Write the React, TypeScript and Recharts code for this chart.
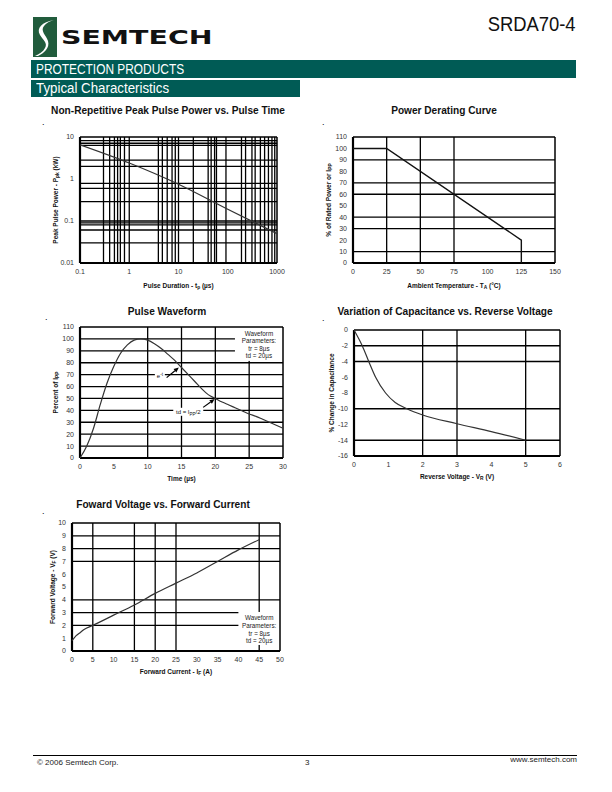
import React from "react";
import {
  LineChart,
  Line,
  XAxis,
  YAxis,
  ReferenceLine,
  ReferenceArea,
  ReferenceDot,
  Label,
} from "recharts";

const SANS = "'Liberation Sans', Arial, Helvetica, sans-serif";
const NARROW = "'Liberation Sans Narrow', 'Liberation Sans', Arial, sans-serif";
const TEAL = "#005b55";

// Non-repetitive peak pulse power vs pulse time (log-log)
const pulseTime = [0.1, 1, 10, 100, 1000];
const pulsePower = [6.5, 2.4, 0.75, 0.19, 0.05];
const pulseXTicks = [0.1, 1, 10, 100, 1000];
const pulseYTicks = [0.01, 0.1, 1, 10];
const pulseGridX = [
  0.3, 0.4, 0.5, 0.58, 0.66, 0.8, 1, 3.9, 4.7, 5.9, 7.4, 8.6, 10, 20, 40, 46,
  54, 59, 92, 190, 230, 310, 360, 460, 560, 670, 790, 900,
];
const pulseGridY = [0.03, 0.061, 0.081, 0.09, 0.1, 0.29, 0.6, 0.79, 2, 2.8, 6.3, 7.1, 8.2];

// Power derating curve
const deratingTemp = [0, 25, 125, 125];
const deratingPct = [100, 100, 20, 0];
const deratingXTicks = [0, 25, 50, 75, 100, 125, 150];
const deratingYTicks = [0, 10, 20, 30, 40, 50, 60, 70, 80, 90, 100, 110];
const deratingGridX = [25, 50, 75];
const deratingGridY = [10, 30, 40, 60, 70, 90];

// Pulse waveform
const waveTime = [0, 1, 2, 3, 4, 5, 6, 7, 8, 9, 10, 11, 12, 13, 14, 15, 16, 17, 18, 19, 20, 21, 22, 23, 24, 25, 26, 27, 28, 29, 30];
const wavePct = [0, 10, 25, 45, 63, 77, 88, 95, 99, 100, 99, 96, 92, 87, 82, 76, 70, 64, 58, 53, 50, 47, 44.5, 42, 39.5, 37, 35, 32.5, 30, 27.5, 25];
const waveXTicks = [0, 5, 10, 15, 20, 25, 30];
const waveYTicks = [0, 10, 20, 30, 40, 50, 60, 70, 80, 90, 100, 110];
const waveGridX = [10, 15, 20, 25];
const waveGridY = [10, 20, 30, 40, 50, 60, 70, 80, 90, 100];
const waveNotes = ["Waveform", "Parameters:", "tr = 8µs", "td = 20µs"];

// Capacitance vs reverse voltage
const capVoltage = [0, 0.24, 0.43, 0.63, 0.92, 1.2, 1.54, 2, 3, 4, 5];
const capChange = [0, -2, -4, -6, -8, -9.2, -10, -10.8, -11.9, -12.9, -14];
const capXTicks = [0, 1, 2, 3, 4, 5, 6];
const capYTicks = [-16, -14, -12, -10, -8, -6, -4, -2, 0];
const capGridX = [2, 3, 5];
const capGridY = [-2, -4, -10, -14];

// Forward voltage vs forward current
const fwdCurrent = [0, 1, 2, 3, 5, 10, 15, 20, 25, 30, 35, 40, 45];
const fwdVoltage = [0.8, 1.2, 1.45, 1.7, 2.0, 2.8, 3.6, 4.5, 5.3, 6.1, 7.0, 7.9, 8.7];
const fwdXTicks = [0, 5, 10, 15, 20, 25, 30, 35, 40, 45, 50];
const fwdYTicks = [0, 1, 2, 3, 4, 5, 6, 7, 8, 9, 10];
const fwdGridX = [5, 15, 20, 25, 45];
const fwdGridY = [2, 3, 4, 7, 8, 9];
const fwdNotes = ["Waveform", "Parameters:", "tr = 8µs", "td = 20µs"];

const M = { top: 6, right: 14, bottom: 0, left: 0 };
const YW = 50;
const XH = 30;
const TICK = { fontSize: 7, fill: "#333", fontFamily: SANS };
const CURVE = "#333";

type Part = [string, string?];

const RichText = ({ x, y, parts, size, rotate, bold }: any) => {
  let shift = 0;
  return (
    <text
      x={x}
      y={y}
      textAnchor="middle"
      dominantBaseline="central"
      fontFamily={SANS}
      fontWeight={bold ? "bold" : "normal"}
      fontSize={size}
      fill="#111"
      transform={rotate ? `rotate(-90 ${x} ${y})` : undefined}
    >
      {parts.map(([t, kind]: Part, i: number) => {
        const target = kind === "sub" ? size * 0.3 : kind === "sup" ? -size * 0.4 : 0;
        const dy = target - shift;
        shift = target;
        return (
          <tspan key={i} dy={dy} fontSize={kind ? size * 0.75 : size}>
            {t}
          </tspan>
        );
      })}
    </text>
  );
};

const xLabel = (parts: Part[], dy: number) => (props: any) => {
  const vb = props.viewBox;
  return <RichText x={vb.x + vb.width / 2} y={vb.y + dy} parts={parts} size={6.5} bold />;
};

const yLabel = (parts: Part[], dx: number) => (props: any) => {
  const vb = props.viewBox;
  return (
    <RichText x={vb.x + vb.width - dx} y={vb.y + vb.height / 2} parts={parts} size={6.5} bold rotate />
  );
};

const gridX = (vals: number[]) =>
  vals.map((v) => (
    <ReferenceLine key={`gx${v}`} x={v} stroke="#000" strokeWidth={1.3} zIndex={100} />
  ));

const gridY = (vals: number[]) =>
  vals.map((v) => (
    <ReferenceLine key={`gy${v}`} y={v} stroke="#000" strokeWidth={1.3} zIndex={100} />
  ));

const frame = (x0: number, x1: number, y0: number, y1: number) => [
  <ReferenceLine key="ft" y={y1} stroke="#000" strokeWidth={1.5} zIndex={400} />,
  <ReferenceLine key="fr" x={x1} stroke="#000" strokeWidth={1.5} zIndex={400} />,
  <ReferenceLine key="fl" x={x0} stroke="#000" strokeWidth={2.2} zIndex={400} />,
  <ReferenceLine key="fb" y={y0} stroke="#000" strokeWidth={2.2} zIndex={400} />,
];

const NoteBox = (props: any) => {
  const { x, y, width, height, lines, top } = props;
  return (
    <g>
      <rect x={x} y={y} width={width} height={height} fill="#fff" />
      {lines.map((l: string, i: number) => (
        <text
          key={i}
          x={x + width / 2}
          y={y + top + i * 7.6}
          textAnchor="middle"
          dominantBaseline="central"
          fontFamily={SANS}
          fontSize={6.3}
          fill="#222"
        >
          {l}
        </text>
      ))}
    </g>
  );
};

const Arrow = (props: any) => {
  const { x1, y1, x2, y2 } = props;
  const a = Math.atan2(y2 - y1, x2 - x1);
  const L = 5;
  const W = 2.2;
  const bx = x2 - L * Math.cos(a);
  const by = y2 - L * Math.sin(a);
  const px = -Math.sin(a) * W;
  const py = Math.cos(a) * W;
  return (
    <g>
      <line x1={x1} y1={y1} x2={bx} y2={by} stroke="#000" strokeWidth={1.2} />
      <polygon points={`${x2},${y2} ${bx + px},${by + py} ${bx - px},${by - py}`} fill="#000" />
    </g>
  );
};

const Tag = (props: any) => {
  const { cx, cy, parts, w } = props;
  return (
    <g>
      <rect x={cx - w / 2} y={cy - 4} width={w} height={8} fill="#fff" />
      <RichText x={cx} y={cy} parts={parts} size={6} />
    </g>
  );
};

const Title = ({ cx, cy, text }: { cx: number; cy: number; text: string }) => (
  <div
    style={{
      position: "absolute",
      left: cx - 160,
      top: cy - 7,
      width: 320,
      textAlign: "center",
      fontFamily: NARROW,
      fontWeight: "bold",
      fontSize: 11.5,
      lineHeight: "14px",
      color: "#111",
      transform: "scaleX(0.88)",
      transformOrigin: "center",
    }}
  >
    {text}
  </div>
);

const Dot = ({ x, y }: { x: number; y: number }) => (
  <div style={{ position: "absolute", left: x - 1, top: y - 8, fontSize: 9, fontFamily: SANS, color: "#000" }}>.</div>
);

const Holder = ({ px, py, children }: { px: number; py: number; children: React.ReactNode }) => (
  <div style={{ position: "absolute", left: px - YW - M.left, top: py - M.top }}>{children}</div>
);

function PulsePowerChart() {
  const data = pulseTime.map((t, i) => ({ t, p: pulsePower[i] }));
  const px = 80, py = 137, pw = 197, ph = 126;
  return (
    <Holder px={px} py={py}>
      <LineChart width={YW + pw + M.right} height={M.top + ph + XH} data={data} margin={M}>
        <XAxis
          type="number"
          dataKey="t"
          scale="log"
          domain={[0.1, 1000]}
          allowDataOverflow
          ticks={pulseXTicks}
          interval={0}
          tickFormatter={(v) => String(v)}
          axisLine={false}
          tickLine={false}
          tickSize={0}
          tickMargin={6}
          height={XH}
          tick={TICK}
        >
          <Label content={xLabel([["Pulse Duration - t"], ["p", "sub"], [" (µs)"]], 22)} />
        </XAxis>
        <YAxis
          type="number"
          scale="log"
          domain={[0.01, 10]}
          allowDataOverflow
          ticks={pulseYTicks}
          interval={0}
          tickFormatter={(v) => String(v)}
          axisLine={false}
          tickLine={false}
          tickSize={0}
          tickMargin={6}
          width={YW}
          tick={TICK}
        >
          <Label content={yLabel([["Peak Pulse Power - P"], ["pk", "sub"], [" (kW)"]], 25)} />
        </YAxis>
        {gridX(pulseGridX)}
        {gridY(pulseGridY)}
        {frame(0.1, 1000, 0.01, 10)}
        <Line type="monotone" dataKey="p" stroke={CURVE} strokeWidth={1.2} dot={false} isAnimationActive={false} zIndex={500} />
      </LineChart>
    </Holder>
  );
}

function DeratingChart() {
  const data = deratingTemp.map((t, i) => ({ t, p: deratingPct[i] }));
  const px = 353, py = 137, pw = 202, ph = 126;
  return (
    <Holder px={px} py={py}>
      <LineChart width={YW + pw + M.right} height={M.top + ph + XH} data={data} margin={M}>
        <XAxis type="number" dataKey="t" domain={[0, 150]} ticks={deratingXTicks} interval={0} axisLine={false} tickLine={false} tickSize={0} tickMargin={6} height={XH} tick={TICK}>
          <Label content={xLabel([["Ambient Temperature - T"], ["A", "sub"], [" (°C)"]], 22)} />
        </XAxis>
        <YAxis type="number" domain={[0, 110]} ticks={deratingYTicks} interval={0} axisLine={false} tickLine={false} tickSize={0} tickMargin={6} width={YW} tick={TICK}>
          <Label content={yLabel([["% of Rated Power or I"], ["PP", "sub"]], 25)} />
        </YAxis>
        {gridX(deratingGridX)}
        {gridY(deratingGridY)}
        {frame(0, 150, 0, 110)}
        <Line type="linear" dataKey="p" stroke="#111" strokeWidth={1.4} dot={false} isAnimationActive={false} zIndex={500} />
      </LineChart>
    </Holder>
  );
}

function WaveformChart() {
  const data = waveTime.map((t, i) => ({ t, p: wavePct[i] }));
  const px = 80, py = 327, pw = 203, ph = 131;
  return (
    <Holder px={px} py={py}>
      <LineChart width={YW + pw + M.right} height={M.top + ph + XH} data={data} margin={M}>
        <XAxis type="number" dataKey="t" domain={[0, 30]} ticks={waveXTicks} interval={0} axisLine={false} tickLine={false} tickSize={0} tickMargin={6} height={XH} tick={TICK}>
          <Label content={xLabel([["Time (µs)"]], 20)} />
        </XAxis>
        <YAxis type="number" domain={[0, 110]} ticks={waveYTicks} interval={0} axisLine={false} tickLine={false} tickSize={0} tickMargin={6} width={YW} tick={TICK}>
          <Label content={yLabel([["Percent of I"], ["PP", "sub"]], 25)} />
        </YAxis>
        {gridX(waveGridX)}
        {gridY(waveGridY)}
        <ReferenceArea x1={22.9} x2={30} y1={81.5} y2={110} zIndex={300} shape={(p: any) => <NoteBox {...p} lines={waveNotes} top={6} />} />
        {frame(0, 30, 0, 110)}
        <Line type="monotone" dataKey="p" stroke={CURVE} strokeWidth={1.2} dot={false} isAnimationActive={false} zIndex={500} />
        <ReferenceDot x={11.8} y={68.6} r={0} zIndex={600} shape={(p: any) => <Tag {...p} w={10} parts={[["e"], ["-t", "sup"]]} />} />
        <ReferenceLine segment={[{ x: 12.8, y: 67.5 }, { x: 14.6, y: 76 }]} zIndex={600} shape={(p: any) => <Arrow {...p} />} />
        <ReferenceDot x={16} y={38.8} r={0} zIndex={600} shape={(p: any) => <Tag {...p} w={30} parts={[["td = I"], ["PP", "sub"], ["/2"]]} />} />
        <ReferenceLine segment={[{ x: 18.2, y: 42.5 }, { x: 19.9, y: 49.5 }]} zIndex={600} shape={(p: any) => <Arrow {...p} />} />
      </LineChart>
    </Holder>
  );
}

function CapacitanceChart() {
  const data = capVoltage.map((v, i) => ({ v, c: capChange[i] }));
  const px = 354, py = 330, pw = 206, ph = 126;
  return (
    <Holder px={px} py={py}>
      <LineChart width={YW + pw + M.right} height={M.top + ph + XH} data={data} margin={M}>
        <XAxis type="number" dataKey="v" domain={[0, 6]} ticks={capXTicks} interval={0} axisLine={false} tickLine={false} tickSize={0} tickMargin={6} height={XH} tick={TICK}>
          <Label content={xLabel([["Reverse Voltage - V"], ["R", "sub"], [" (V)"]], 20)} />
        </XAxis>
        <YAxis type="number" domain={[-16, 0]} ticks={capYTicks} interval={0} axisLine={false} tickLine={false} tickSize={0} tickMargin={6} width={YW} tick={TICK}>
          <Label content={yLabel([["% Change in Capacitance"]], 23)} />
        </YAxis>
        {gridX(capGridX)}
        {gridY(capGridY)}
        {frame(0, 6, -16, 0)}
        <Line type="monotone" dataKey="c" stroke={CURVE} strokeWidth={1.2} dot={false} isAnimationActive={false} zIndex={500} />
      </LineChart>
    </Holder>
  );
}

function ForwardChart() {
  const data = fwdCurrent.map((c, i) => ({ c, v: fwdVoltage[i] }));
  const px = 72, py = 523, pw = 208, ph = 128;
  return (
    <Holder px={px} py={py}>
      <LineChart width={YW + pw + M.right} height={M.top + ph + XH} data={data} margin={M}>
        <XAxis type="number" dataKey="c" domain={[0, 50]} ticks={fwdXTicks} interval={0} axisLine={false} tickLine={false} tickSize={0} tickMargin={6} height={XH} tick={TICK}>
          <Label content={xLabel([["Forward Current - I"], ["F", "sub"], [" (A)"]], 20)} />
        </XAxis>
        <YAxis type="number" domain={[0, 10]} ticks={fwdYTicks} interval={0} axisLine={false} tickLine={false} tickSize={0} tickMargin={6} width={YW} tick={TICK}>
          <Label content={yLabel([["Forward Voltage - V"], ["F", "sub"], [" (V)"]], 20)} />
        </YAxis>
        {gridX(fwdGridX)}
        {gridY(fwdGridY)}
        <ReferenceArea x1={40} x2={50} y1={0.47} y2={3.05} zIndex={300} shape={(p: any) => <NoteBox {...p} lines={fwdNotes} top={6} />} />
        {frame(0, 50, 0, 10)}
        <Line type="monotone" dataKey="v" stroke={CURVE} strokeWidth={1.2} dot={false} isAnimationActive={false} zIndex={500} />
      </LineChart>
    </Holder>
  );
}

const Logo = () => (
  <div style={{ position: "absolute", left: 33, top: 17, width: 213, height: 40 }}>
    <svg width={24} height={40} style={{ position: "absolute", left: 0, top: 0 }}>
      <rect x={0} y={0} width={24} height={40} fill="#215c3c" />
      <path d="M21 3 C9 5 3 11 7 18 C10 23 15 26 12 31 C10 35 6 37 2 39 L5 39 C11 36 17 31 15 24 C13 18 7 14 11 9 C13 6 17 4 21 3 Z" fill="#fff" />
    </svg>
    <div
      style={{
        position: "absolute",
        left: 28,
        top: 9,
        fontFamily: "'DejaVu Sans', sans-serif",
        fontWeight: 900,
        fontSize: 20,
        lineHeight: "22px",
        color: "#111",
        transform: "scaleX(1.42)",
        transformOrigin: "left",
        whiteSpace: "nowrap",
      }}
    >
      SEMTECH
    </div>
  </div>
);

export default function App() {
  return (
    <div style={{ position: "absolute", left: 0, top: 0, width: 612, height: 792, background: "#fff" }}>
      <Logo />
      <div style={{ position: "absolute", right: 36, top: 12, fontFamily: NARROW, fontSize: 20, color: "#111", lineHeight: "24px", transform: "scaleX(0.92)", transformOrigin: "right" }}>
        SRDA70-4
      </div>
      <div style={{ position: "absolute", left: 31, top: 60, width: 545, height: 18, background: TEAL }}>
        <div style={{ position: "absolute", left: 5, top: 1, fontFamily: NARROW, fontSize: 14, color: "#fff", lineHeight: "17px", transform: "scaleX(0.85)", transformOrigin: "left", whiteSpace: "nowrap" }}>
          PROTECTION PRODUCTS
        </div>
      </div>
      <div style={{ position: "absolute", left: 31, top: 80, width: 269, height: 17, background: TEAL }}>
        <div style={{ position: "absolute", left: 5, top: 0, fontFamily: NARROW, fontSize: 14, color: "#fff", lineHeight: "17px", transform: "scaleX(0.95)", transformOrigin: "left", whiteSpace: "nowrap" }}>
          Typical Characteristics
        </div>
      </div>

      <Title cx={168} cy={110} text="Non-Repetitive Peak Pulse Power vs. Pulse Time" />
      <Title cx={444} cy={110} text="Power Derating Curve" />
      <Title cx={167} cy={311} text="Pulse Waveform" />
      <Title cx={445} cy={311} text="Variation of Capacitance vs. Reverse Voltage" />
      <Title cx={163} cy={504} text="Foward Voltage vs. Forward Current" />

      <Dot x={43} y={125} />
      <Dot x={323} y={125} />
      <Dot x={46} y={320} />
      <Dot x={323} y={321} />
      <Dot x={43} y={514} />

      <PulsePowerChart />
      <DeratingChart />
      <WaveformChart />
      <CapacitanceChart />
      <ForwardChart />

      <div style={{ position: "absolute", left: 33, top: 755, width: 544, height: 1, background: "#000" }} />
      <div style={{ position: "absolute", left: 37, top: 758, fontFamily: SANS, fontSize: 8, color: "#222" }}>© 2006 Semtech Corp.</div>
      <div style={{ position: "absolute", left: 305, top: 758, fontFamily: SANS, fontSize: 8, color: "#222" }}>3</div>
      <div style={{ position: "absolute", right: 35, top: 755, fontFamily: SANS, fontSize: 8, color: "#222" }}>www.semtech.com</div>
    </div>
  );
}
